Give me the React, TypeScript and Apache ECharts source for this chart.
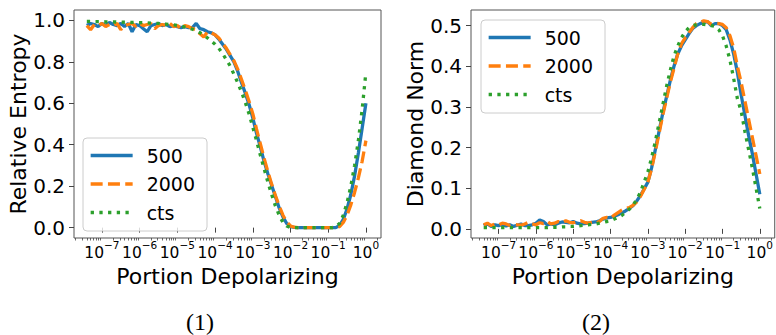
import React, { useEffect, useRef } from "react";
import * as echarts from "echarts";

// x positions: log10 of "Portion Depolarizing"
const X_EXP = [
  -7.4, -7.3, -7.2, -7.1,
  -7.0, -6.9, -6.8, -6.7, -6.6, -6.5, -6.4, -6.3, -6.2, -6.1,
  -6.0, -5.9, -5.8, -5.7, -5.6, -5.5, -5.4, -5.3, -5.2, -5.1,
  -5.0, -4.9, -4.8, -4.7, -4.6, -4.5, -4.4, -4.3, -4.2, -4.1,
  -4.0, -3.9, -3.8, -3.7, -3.6, -3.5, -3.4, -3.3, -3.2, -3.1,
  -3.0, -2.9, -2.8, -2.7, -2.6, -2.5, -2.4, -2.3, -2.2, -2.1,
  -2.0, -1.9, -1.8, -1.7, -1.6, -1.5, -1.4, -1.3, -1.2, -1.1,
  -1.0, -0.9, -0.8, -0.7, -0.6, -0.5, -0.4, -0.3, -0.2, -0.1,
  0.0,
];

// Panel (1): Relative Entropy
const RE_500 = [
  0.975, 0.985, 0.98, 0.97,
  0.985, 0.975, 0.99, 0.98, 0.975, 0.985, 0.97, 0.985, 0.945, 0.98,
  0.975, 0.96, 0.945, 0.975, 0.98, 0.985, 0.975, 0.98, 0.97, 0.975,
  0.97, 0.965, 0.97, 0.965, 0.965, 0.985, 0.96, 0.955, 0.945, 0.94,
  0.93, 0.91, 0.885, 0.86, 0.83, 0.8, 0.755, 0.7, 0.65, 0.595,
  0.53, 0.455, 0.39, 0.32, 0.26, 0.205, 0.15, 0.095, 0.052, 0.02,
  0.005, 0.001, 0, 0, 0, 0, 0, 0, 0, 0,
  0, 0, 0, 0.01, 0.04, 0.09, 0.16, 0.25, 0.36, 0.48,
  0.6,
];
const RE_2000 = [
  0.975, 0.955, 0.98, 0.975,
  0.985, 0.97, 0.98, 0.975, 0.985, 0.955, 0.975, 0.98, 0.985, 0.97,
  0.985, 0.975, 0.98, 0.985, 0.96, 0.975, 0.98, 0.975, 0.985, 0.97,
  0.975, 0.96, 0.975, 0.97, 0.96, 0.955, 0.935, 0.92, 0.945, 0.94,
  0.93, 0.915, 0.89, 0.865, 0.835, 0.805, 0.765, 0.715, 0.665, 0.61,
  0.55, 0.475, 0.405, 0.335, 0.27, 0.21, 0.155, 0.105, 0.06, 0.028,
  0.008, 0.002, 0, 0, 0, 0, 0, 0, 0, 0,
  0, 0, 0, 0.005, 0.025, 0.06, 0.11, 0.17, 0.24, 0.32,
  0.42,
];
const RE_CTS = [
  0.995, 0.995, 0.994, 0.994,
  0.994, 0.993, 0.993, 0.993, 0.992, 0.992, 0.991, 0.991, 0.99, 0.99,
  0.989, 0.989, 0.988, 0.987, 0.986, 0.985, 0.984, 0.982, 0.98, 0.978,
  0.975, 0.972, 0.968, 0.963, 0.957, 0.95, 0.94, 0.93, 0.915, 0.9,
  0.885, 0.865, 0.84, 0.81, 0.78, 0.74, 0.7, 0.655, 0.605, 0.55,
  0.485, 0.42, 0.35, 0.285, 0.22, 0.16, 0.105, 0.06, 0.025, 0.008,
  0.001, 0, 0, 0, 0, 0, 0, 0, 0, 0,
  0, 0, 0.005, 0.02, 0.06, 0.12, 0.2, 0.3, 0.42, 0.57,
  0.75,
];

// Panel (2): Diamond Norm
const DN_500 = [
  0.008, 0.012, 0.006, 0.01,
  0.008, 0.011, 0.007, 0.01, 0.006, 0.009, 0.012, 0.008, 0.008, 0.01,
  0.014, 0.022, 0.018, 0.01, 0.012, 0.01, 0.014, 0.017, 0.016, 0.015,
  0.018, 0.014, 0.012, 0.013, 0.014, 0.016, 0.017, 0.02, 0.024, 0.027,
  0.028, 0.031, 0.035, 0.039, 0.044, 0.05, 0.057, 0.068, 0.082, 0.098,
  0.115, 0.15, 0.195, 0.24, 0.285, 0.325, 0.365, 0.4, 0.43, 0.45,
  0.465, 0.48, 0.493, 0.5, 0.505, 0.508, 0.51, 0.5, 0.505, 0.505,
  0.5, 0.49, 0.465, 0.43, 0.385, 0.33, 0.28, 0.23, 0.185, 0.135,
  0.085,
];
const DN_2000 = [
  0.01, 0.014, 0.008, 0.012,
  0.01, 0.014, 0.012, 0.008, 0.011, 0.01, 0.009, 0.012, 0.016, 0.012,
  0.01, 0.015, 0.013, 0.018, 0.012, 0.014, 0.018, 0.015, 0.02, 0.016,
  0.015, 0.018, 0.02, 0.016, 0.014, 0.016, 0.014, 0.018, 0.026, 0.028,
  0.026, 0.034, 0.04, 0.046, 0.05, 0.052, 0.058, 0.066, 0.08, 0.097,
  0.115, 0.148, 0.19, 0.235, 0.28, 0.32, 0.36, 0.395, 0.43, 0.455,
  0.47, 0.482, 0.495, 0.505, 0.508, 0.512, 0.51, 0.503, 0.506, 0.505,
  0.503, 0.495, 0.475, 0.445, 0.4, 0.36, 0.315, 0.27, 0.225, 0.18,
  0.135,
];
const DN_CTS = [
  0.003, 0.003, 0.003, 0.003,
  0.003, 0.003, 0.003, 0.003, 0.003, 0.003, 0.003, 0.003, 0.003, 0.003,
  0.003, 0.003, 0.003, 0.003, 0.004, 0.004, 0.004, 0.005, 0.005, 0.006,
  0.006, 0.007, 0.008, 0.009, 0.01, 0.011, 0.012, 0.014, 0.016, 0.018,
  0.02, 0.024, 0.028, 0.033, 0.04, 0.048, 0.058, 0.072, 0.09, 0.115,
  0.14, 0.175, 0.215, 0.26, 0.305, 0.35, 0.39, 0.425, 0.45, 0.47,
  0.485, 0.495, 0.5, 0.502, 0.503, 0.503, 0.502, 0.5, 0.498, 0.49,
  0.475, 0.45, 0.415, 0.37, 0.32, 0.29, 0.24, 0.195, 0.15, 0.1,
  0.05,
];

const SERIES_NAMES = ["500", "2000", "cts"];
const X_MAJOR = [1e-7, 1e-6, 1e-5, 1e-4, 1e-3, 1e-2, 1e-1, 1];
const MINOR_MULT = [2, 3, 4, 5, 6, 7, 8, 9];
const MINOR_DECADES = [1e-8, 1e-7, 1e-6, 1e-5, 1e-4, 1e-3, 1e-2, 1e-1, 1];
const RE_TICKS = [0, 0.2, 0.4, 0.6, 0.8, 1.0];
const DN_TICKS = [0, 0.1, 0.2, 0.3, 0.4, 0.5];
const CAPTIONS = ["(1)", "(2)"];
const Y_TITLES = ["Relative Entropy", "Diamond Norm"];
const X_TITLE = "Portion Depolarizing";

const FONT = "DejaVu Sans";
const COLORS = ["#1f77b4", "#ff7f0e", "#2ca02c"];
const LINE_TYPES: any[] = ["solid", [12, 5.3], [3.3, 5.4]];
const LW = 3.3;
const X_MIN = Math.pow(10, -7.74);
const X_MAX = Math.pow(10, 0.4);
const TICK_COLOR = "#444";

export default function App() {
  const ref = useRef<HTMLDivElement>(null);

  useEffect(() => {
    if (!ref.current) return;
    const chart = echarts.init(ref.current, undefined, { renderer: "svg" });

    const minor: number[] = [];
    MINOR_DECADES.forEach((d) =>
      MINOR_MULT.forEach((m) => {
        const v = d * m;
        if (v > X_MIN && v < X_MAX) minor.push(v);
      })
    );

    const grids = [
      { left: 74, top: 10, width: 307, height: 228 },
      { left: 471, top: 10, width: 307, height: 228 },
    ].map((g) => ({
      ...g,
      show: true,
      borderColor: "#555",
      borderWidth: 1,
      backgroundColor: "transparent",
    }));

    const xMain = (gridIndex: number) => ({
      type: "log",
      logBase: 10,
      gridIndex,
      min: X_MIN,
      max: X_MAX,
      position: "bottom",
      axisLine: { show: false },
      splitLine: { show: false },
      minorTick: { show: false },
      axisTick: {
        show: true,
        length: 5,
        customValues: X_MAJOR,
        lineStyle: { color: TICK_COLOR, width: 1 },
      },
      axisLabel: {
        customValues: X_MAJOR,
        margin: 1,
        interval: 0,
        hideOverlap: false,
        showMinLabel: true,
        showMaxLabel: true,
        formatter: (v: number) => {
          const e = Math.round(Math.log10(v));
          const s = e < 0 ? "\u2212" + -e : String(e);
          return "{b|10}{s|" + s + "}";
        },
        rich: {
          b: { fontSize: 15.5, fontFamily: FONT, color: "#000", lineHeight: 22, verticalAlign: "bottom" },
          s: { fontSize: 10.5, fontFamily: FONT, color: "#000", lineHeight: 22, verticalAlign: "top" },
        },
      },
      name: X_TITLE,
      nameLocation: "middle",
      nameGap: 19,
      nameTextStyle: { fontSize: 22, fontFamily: FONT, color: "#000", verticalAlign: "top" },
    });

    const xMinor = (gridIndex: number) => ({
      type: "log",
      logBase: 10,
      gridIndex,
      min: X_MIN,
      max: X_MAX,
      position: "bottom",
      axisLine: { show: false },
      splitLine: { show: false },
      axisTick: {
        show: true,
        length: 2.5,
        customValues: minor,
        lineStyle: { color: TICK_COLOR, width: 0.8 },
      },
      axisLabel: { show: false },
    });

    const yAxis = (gridIndex: number, min: number, max: number, ticks: number[], title: string) => ({
      type: "value",
      gridIndex,
      min,
      max,
      axisLine: { show: false },
      splitLine: { show: false },
      axisTick: {
        show: true,
        length: 5,
        customValues: ticks,
        lineStyle: { color: TICK_COLOR, width: 1 },
      },
      axisLabel: {
        customValues: ticks,
        margin: 9,
        fontSize: 20,
        fontFamily: FONT,
        color: "#000",
        formatter: (v: number) => v.toFixed(1),
      },
      name: title,
      nameLocation: "middle",
      nameGap: 44,
      nameTextStyle: { fontSize: 22, fontFamily: FONT, color: "#000" },
    });

    const panels = [
      [RE_500, RE_2000, RE_CTS],
      [DN_500, DN_2000, DN_CTS],
    ];
    const series: any[] = [];
    panels.forEach((vals, p) => {
      vals.forEach((arr, i) => {
        series.push({
          type: "line",
          name: SERIES_NAMES[i],
          xAxisIndex: p * 2,
          yAxisIndex: p,
          data: X_EXP.map((e, k) => [Math.pow(10, e), arr[k]]),
          showSymbol: false,
          symbol: "none",
          smooth: false,
          z: 3 + i,
          lineStyle: { color: COLORS[i], width: LW, type: LINE_TYPES[i], cap: "butt" },
          itemStyle: { color: COLORS[i] },
        });
      });
    });

    const legend = (left: number, top: number) => ({
      left,
      top,
      orient: "vertical",
      data: SERIES_NAMES,
      selectedMode: false,
      itemWidth: 42,
      itemHeight: 16,
      itemGap: 9.5,
      padding: [8, 12, 9, 6],
      backgroundColor: "rgba(255,255,255,0.8)",
      borderColor: "#cccccc",
      borderWidth: 1,
      borderRadius: 4,
      itemStyle: { opacity: 0 },
      lineStyle: { width: LW },
      textStyle: { fontSize: 19, lineHeight: 16, fontFamily: FONT, color: "#000", padding: [0, 0, 0, 9] },
    });

    chart.setOption({
      animation: false,
      backgroundColor: "#ffffff",
      grid: grids,
      xAxis: [xMain(0), xMinor(0), xMain(1), xMinor(1)],
      yAxis: [
        yAxis(0, -0.05, 1.05, RE_TICKS, Y_TITLES[0]),
        yAxis(1, -0.0225, 0.5385, DN_TICKS, Y_TITLES[1]),
      ],
      legend: [legend(83, 138), legend(481, 20)],
      series,
      graphic: [
        {
          type: "text",
          x: 200,
          y: 322,
          style: { text: CAPTIONS[0], font: '24px "Liberation Serif"', fill: "#000", align: "center", verticalAlign: "middle" },
        },
        {
          type: "text",
          x: 596,
          y: 322,
          style: { text: CAPTIONS[1], font: '24px "Liberation Serif"', fill: "#000", align: "center", verticalAlign: "middle" },
        },
      ],
    });

    return () => chart.dispose();
  }, []);

  return (
    <div
      ref={ref}
      style={{ position: "absolute", left: 0, top: 0, width: 776, height: 335 }}
    />
  );
}
